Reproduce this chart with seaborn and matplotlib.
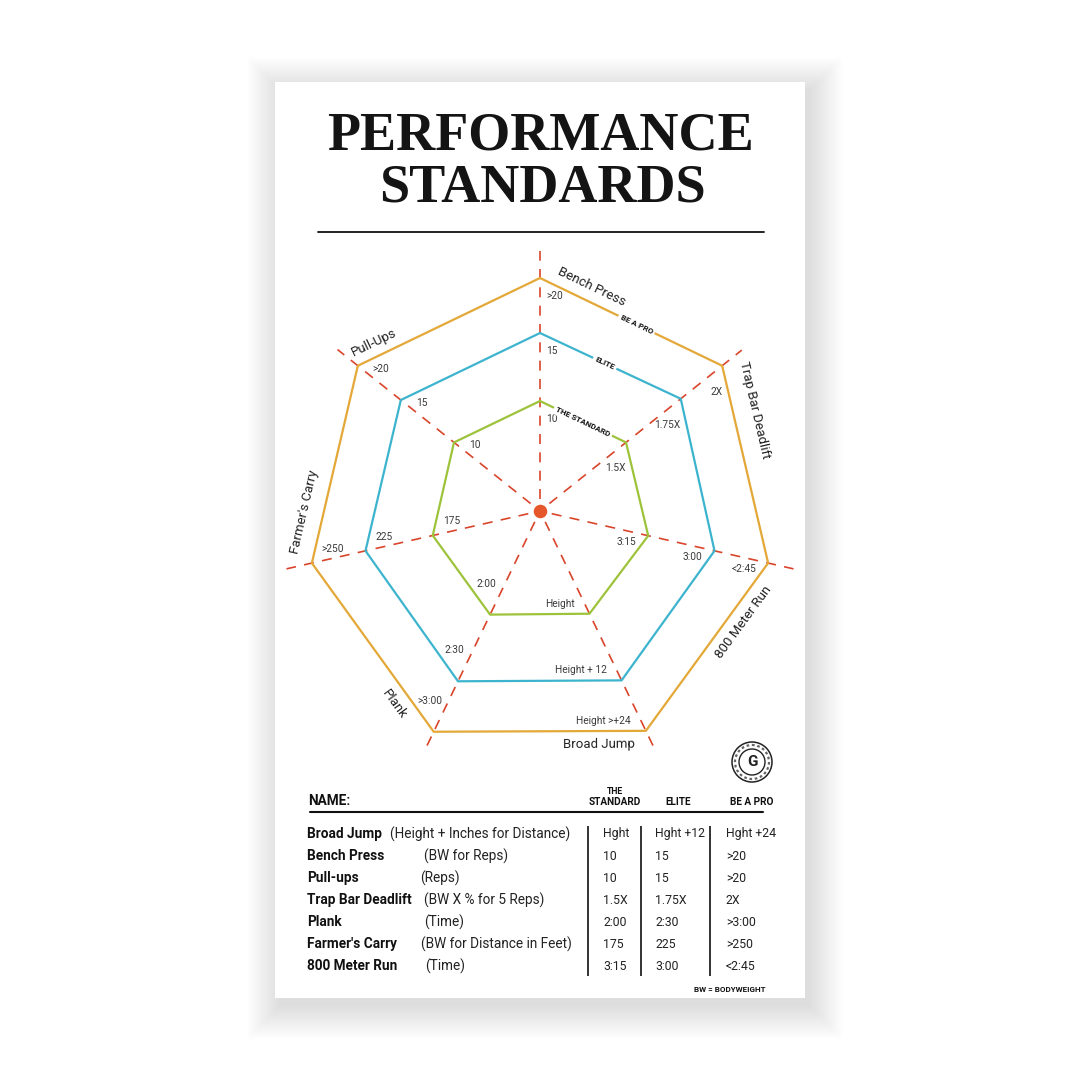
import numpy as np
import pandas as pd
import matplotlib
matplotlib.use("Agg")
import matplotlib.pyplot as plt
import seaborn as sns
from matplotlib.patches import Rectangle, Circle

# ---------------- data ----------------
axis_names = ["Bench Press", "Trap Bar Deadlift", "800 Meter Run", "Broad Jump",
              "Plank", "Farmer's Carry", "Pull-Ups"]
tier_names = ["THE STANDARD", "ELITE", "BE A PRO"]
standard_r = [1.10, 1.10, 1.11, 1.14, 1.15, 1.10, 1.10]
elite_r = [1.78, 1.80, 1.79, 1.88, 1.89, 1.79, 1.78]
pro_r = [2.33, 2.33, 2.34, 2.44, 2.45, 2.34, 2.33]
spoke_r = [2.60, 2.58, 2.60, 2.66, 2.66, 2.60, 2.59]
standard_labels = ["10", "1.5X", "3:15", "Height", "2:00", "175", "10"]
elite_labels = ["15", "1.75X", "3:00", "Height + 12", "2:30", "225", "15"]
pro_labels = [">20", "2X", "<2:45", "Height >+24", ">3:00", ">250", ">20"]

table_names = ["Broad Jump", "Bench Press", "Pull-ups", "Trap Bar Deadlift",
               "Plank", "Farmer's Carry", "800 Meter Run"]
table_units = ["(Height + Inches for Distance)", "(BW for Reps)", "(Reps)",
               "(BW X % for 5 Reps)", "(Time)", "(BW for Distance in Feet)", "(Time)"]
table_standard = ["Hght", "10", "10", "1.5X", "2:00", "175", "3:15"]
table_elite = ["Hght +12", "15", "15", "1.75X", "2:30", "225", "3:00"]
table_pro = ["Hght +24", ">20", ">20", "2X", ">3:00", ">250", "<2:45"]

# ---------------- style ----------------
sns.set_theme(style="white")
plt.rcParams['font.family'] = ['Roboto', 'DejaVu Sans']

tier_colors = {"THE STANDARD": "#9DC33B", "ELITE": "#3DB4CE", "BE A PRO": "#E3A837"}
spoke_color = "#D9452B"
dot_color = "#E5572A"
text_color = "#3a3a3a"

W = H = 1080
fig = plt.figure(figsize=(10.8, 10.8), dpi=100)
fig.patch.set_facecolor("white")
ax_bg = fig.add_axes([0, 0, 1, 1])
ax_bg.set_xlim(0, W)
ax_bg.set_ylim(H, 0)
ax_bg.axis("off")

# card + soft shadow
cx0, cy0, cw, ch = 275, 82, 530, 916
for k in range(34):
    ax_bg.add_patch(Rectangle((cx0 + 5 - k, cy0 + 8 - k), cw + 2 * k, ch + 2 * k,
                              facecolor="black", edgecolor="none", alpha=0.0042, zorder=0))
ax_bg.add_patch(Rectangle((cx0, cy0), cw, ch, facecolor="white", edgecolor="none", zorder=1))

# title
ax_bg.text(540, 137, "PERFORMANCE", ha="center", va="center", fontsize=39,
           fontweight="bold", family=["Liberation Serif", "DejaVu Serif"], color="#141414", zorder=3)
ax_bg.text(542, 189, "STANDARDS", ha="center", va="center", fontsize=39,
           fontweight="bold", family=["Liberation Serif", "DejaVu Serif"], color="#141414", zorder=3)
ax_bg.plot([318, 764], [232, 232], color="#111111", lw=1.3, zorder=3)

# ---------------- radar ----------------
center_y = 511
R_px = 270
ax_p = fig.add_axes([(540 - R_px) / W, (H - center_y - R_px) / H, 2 * R_px / W, 2 * R_px / H],
                    projection="polar", zorder=5)
ax_p.set_facecolor("none")
ax_p.set_theta_zero_location("N")
ax_p.set_theta_direction(-1)

n = len(axis_names)
angles = np.arange(n) * 2 * np.pi / n

rows = []
for tier, rs in zip(tier_names, [standard_r, elite_r, pro_r]):
    for k in range(n + 1):
        i = k % n
        rows.append({"tier": tier, "theta": angles[i] if k < n else 2 * np.pi, "r": rs[i]})
poly_df = pd.DataFrame(rows)

ax_p.vlines(angles, 0.12, spoke_r, colors=spoke_color, linestyles=(0, (6, 5)), lw=1.2, zorder=2)
sns.lineplot(data=poly_df, x="theta", y="r", hue="tier", palette=tier_colors, sort=False,
             estimator=None, legend=False, linewidth=1.6, ax=ax_p, zorder=3)
ax_p.scatter([0], [0], s=95, color=dot_color, zorder=6, linewidths=0)

ax_p.set_ylim(0, R_px / 100)
ax_p.set_xticks([])
ax_p.set_yticks([])
ax_p.grid(False)
ax_p.spines["polar"].set_visible(False)
ax_p.set_xlabel("")
ax_p.set_ylabel("")


def vpt(i, rs):
    return np.array(ax_p.transData.transform((angles[i], rs[i])))


center_disp = np.array(ax_p.transData.transform((0, 0)))

# value labels: (ha, dx, dy_down)
val_style = [("left", 6, 18), ("right", 0, 26), ("right", -12, 6), ("right", -15, -10),
             ("center", -4, -31), ("left", 10, -14), ("left", 15, 3)]
for rs, labels in zip([standard_r, elite_r, pro_r], [standard_labels, elite_labels, pro_labels]):
    for i in range(n):
        ha, dx, dy = val_style[i]
        ax_p.annotate(labels[i], xy=vpt(i, rs), xycoords="figure pixels",
                      xytext=(dx, -dy), textcoords="offset pixels", annotation_clip=False,
                      ha=ha, va="center", fontsize=7.3, color=text_color, zorder=8)

# axis names along the outer edges
name_pos = [(0.25, 15), (0.25, 22), (0.30, 15), (0.22, 13), (0.22, 16), (0.24, 19), (0.12, 14)]
for i in range(n):
    p0 = vpt(i, pro_r)
    p1 = vpt((i + 1) % n, pro_r)
    d = p1 - p0
    t, perp = name_pos[i]
    pt = p0 + t * d
    nv = np.array([d[1], -d[0]]) / np.hypot(*d)
    if np.dot(nv, pt - center_disp) < 0:
        nv = -nv
    pos = pt + perp * nv
    rot = np.degrees(np.arctan2(d[1], d[0]))
    if rot > 90:
        rot -= 180
    if rot <= -90:
        rot += 180
    ax_p.annotate(axis_names[i], xy=pos, xycoords="figure pixels", rotation=rot,
                  annotation_clip=False, rotation_mode="anchor", ha="center", va="center",
                  fontsize=9.5, color="#222222", zorder=8)

# tier names on the first edge, sitting in a gap of the line
tier_t = [0.50, 0.46, 0.53]
for tier, rs, t in zip(tier_names, [standard_r, elite_r, pro_r], tier_t):
    p0 = vpt(0, rs)
    p1 = vpt(1, rs)
    d = p1 - p0
    rot = np.degrees(np.arctan2(d[1], d[0]))
    ax_p.annotate(tier, xy=p0 + t * d, xycoords="figure pixels", rotation=rot,
                  annotation_clip=False, rotation_mode="anchor", ha="center", va="center",
                  fontsize=5.9, fontweight="bold", color="#111111", zorder=9,
                  bbox=dict(boxstyle="square,pad=0.3", fc="white", ec="none"))

# logo
lx, ly = 752, 762
ax_bg.add_patch(Circle((lx, ly), 20, fc="white", ec="#222222", lw=1.1, zorder=3))
ax_bg.add_patch(Circle((lx, ly), 17, fc="none", ec="#666666", lw=1.6, ls=(0, (1.2, 1.2)), zorder=3))
ax_bg.add_patch(Circle((lx, ly), 13, fc="white", ec="#222222", lw=1.0, zorder=3))
ax_bg.text(lx, ly + 0.5, "G", ha="center", va="center", fontsize=11, fontweight="bold",
           color="#222222", zorder=4)

# ---------------- table ----------------
ax_bg.text(308, 801, "NAME:", ha="left", va="center", fontsize=9.8, fontweight="bold",
           color="#111111", zorder=3)
ax_bg.text(615, 791, "THE", ha="center", va="center", fontsize=6.3, fontweight="bold",
           color="#111111", zorder=3)
ax_bg.text(615, 802, "STANDARD", ha="center", va="center", fontsize=7.2, fontweight="bold",
           color="#111111", zorder=3)
ax_bg.text(678, 802, "ELITE", ha="center", va="center", fontsize=7.2, fontweight="bold",
           color="#111111", zorder=3)
ax_bg.text(752, 802, "BE A PRO", ha="center", va="center", fontsize=7.2, fontweight="bold",
           color="#111111", zorder=3)
ax_bg.plot([310, 763], [812, 812], color="#111111", lw=1.5, zorder=3)

desc_x = [390, 424, 420, 424, 424, 421, 425]
row_y0, row_dy = 834, 22
for j in range(len(table_names)):
    y = row_y0 + j * row_dy
    ax_bg.text(307, y, table_names[j], ha="left", va="center", fontsize=9.8,
               fontweight="bold", color="#111111", zorder=3)
    ax_bg.text(desc_x[j], y, table_units[j], ha="left", va="center", fontsize=9.8,
               color="#222222", zorder=3)
    ax_bg.text(603, y, table_standard[j], ha="left", va="center", fontsize=8.8,
               color="#222222", zorder=3)
    ax_bg.text(655, y, table_elite[j], ha="left", va="center", fontsize=8.8,
               color="#222222", zorder=3)
    ax_bg.text(726, y, table_pro[j], ha="left", va="center", fontsize=8.8,
               color="#222222", zorder=3)
ax_bg.vlines([588, 641, 710], 826, 976, colors="#111111", lw=1.2, zorder=3)
ax_bg.text(765, 989, "BW = BODYWEIGHT", ha="right", va="center", fontsize=5.8,
           fontweight="bold", color="#111111", zorder=3)

fig.savefig("out.png", dpi=100, facecolor="white")
